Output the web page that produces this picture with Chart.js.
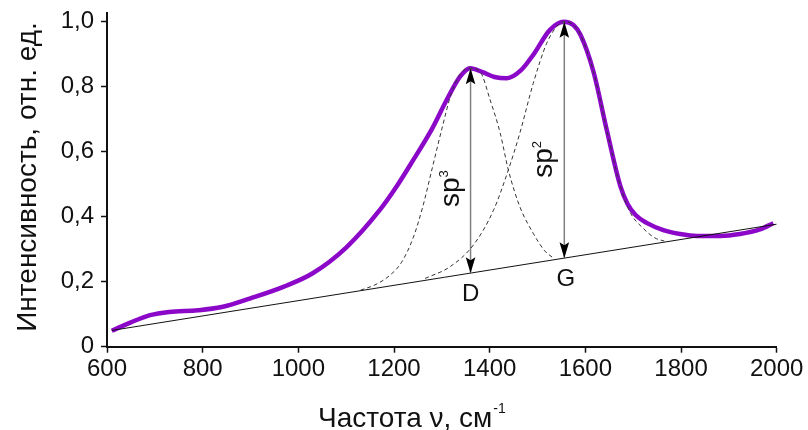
<!DOCTYPE html>
<html>
<head>
<meta charset="utf-8">
<script src="https://cdn.jsdelivr.net/npm/chart.js@4/dist/chart.umd.min.js"></script>
<style>
  html, body { margin: 0; padding: 0; background: #fff; }
  canvas { display: block; }
</style>
</head>
<body>
<canvas id="raman" width="808" height="430"></canvas>
<script>
// Raman spectrum of the carbon film with its D and G band decomposition
const spectrumX = [610, 650, 690, 730, 790, 840, 900, 970, 1030, 1100, 1170, 1205, 1240, 1280, 1310, 1338, 1359,
                   1385, 1410, 1436, 1465, 1491, 1526, 1555, 1575, 1590, 1617, 1645, 1673, 1688, 1705, 1728,
                   1763, 1798, 1833, 1882, 1923, 1965, 1993];
const spectrumY = [0.049, 0.075, 0.097, 0.107, 0.112, 0.122, 0.149, 0.185, 0.226, 0.305, 0.420, 0.492, 0.574, 0.672, 0.759, 0.831, 0.857,
                   0.845, 0.830, 0.826, 0.850, 0.898, 0.975, 1.000, 0.990, 0.959, 0.846, 0.665, 0.495, 0.440, 0.405, 0.381,
                   0.359, 0.347, 0.341, 0.341, 0.347, 0.361, 0.380];

// D band (sp3) component
const bandDX = [1130, 1160, 1190, 1215, 1240, 1260, 1280, 1300, 1320, 1340, 1360, 1380, 1401, 1422, 1439, 1463, 1491, 1515, 1533];
const bandDY = [0.174, 0.190, 0.218, 0.258, 0.335, 0.430, 0.550, 0.670, 0.780, 0.842, 0.857, 0.846, 0.759, 0.657, 0.544, 0.431, 0.349, 0.295, 0.273];

// G band (sp2) component
const bandGX = [1265, 1317, 1366, 1408, 1439, 1463, 1491, 1519, 1540, 1555, 1575, 1590, 1617, 1645, 1673, 1693, 1721, 1745, 1765];
const bandGY = [0.210, 0.246, 0.313, 0.420, 0.544, 0.657, 0.810, 0.933, 0.985, 1.000, 0.990, 0.959, 0.846, 0.665, 0.495, 0.415, 0.364, 0.335, 0.325];

// linear background
const baselineX = [610, 2000];
const baselineY = [0.050, 0.377];

// band heights measured from the background
const bandNames = ['D', 'G'];
const bandHybrid = ['3', '2'];
const bandPeakX = [1360, 1556];
const bandFootY = [0.226, 0.272];
const bandTopY = [0.857, 1.000];

const xTicks = [600, 800, 1000, 1200, 1400, 1600, 1800, 2000];
const yTicks = [0, 0.2, 0.4, 0.6, 0.8, 1.0];

const FONT = '"Liberation Sans", Arial, Helvetica, sans-serif';
const INK = '#111';

const pts = (xs, ys) => xs.map((x, i) => ({ x: x, y: ys[i] }));

const datasets = [
  {
    data: pts(spectrumX, spectrumY),
    borderColor: 'rgb(140, 8, 200)',
    borderWidth: 4.5,
    cubicInterpolationMode: 'monotone',
    order: 5
  },
  {
    data: pts(baselineX, baselineY),
    borderColor: '#111',
    borderWidth: 1,
    order: 3
  },
  {
    data: pts(bandDX, bandDY),
    borderColor: '#333',
    borderWidth: 1,
    borderDash: [4, 3],
    cubicInterpolationMode: 'monotone',
    order: 1
  },
  {
    data: pts(bandGX, bandGY),
    borderColor: '#333',
    borderWidth: 1,
    borderDash: [4, 3],
    cubicInterpolationMode: 'monotone',
    order: 1
  }
];
// arrow shafts
bandPeakX.forEach((x, i) => {
  datasets.push({
    data: [{ x: x, y: bandFootY[i] }, { x: x, y: bandTopY[i] }],
    borderColor: '#808080',
    borderWidth: 1.5,
    order: 2
  });
});

function head(ctx, x, y, dir) {
  // dir = -1: points up, +1: points down; (x, y) is the tip
  const len = 16, half = 4.8, notch = 3;
  ctx.beginPath();
  ctx.moveTo(x, y);
  ctx.lineTo(x - half, y - dir * len);
  ctx.lineTo(x, y - dir * (len - notch));
  ctx.lineTo(x + half, y - dir * len);
  ctx.closePath();
  ctx.fill();
}

const annotations = {
  id: 'annotations',
  afterDatasetsDraw(chart) {
    const ctx = chart.ctx;
    const xs = chart.scales.x, ys = chart.scales.y;
    ctx.save();
    bandPeakX.forEach((v, i) => {
      const px = xs.getPixelForValue(v);
      const pLow = ys.getPixelForValue(bandFootY[i]);
      const pHigh = ys.getPixelForValue(bandTopY[i]);
      ctx.fillStyle = '#000';
      head(ctx, px, pHigh, -1);
      head(ctx, px, pLow, 1);

      // band name under the background line
      ctx.font = '24px ' + FONT;
      ctx.fillStyle = INK;
      ctx.textAlign = 'center';
      ctx.textBaseline = 'alphabetic';
      ctx.fillText(bandNames[i], px + (i === 0 ? 0 : 1.5), pLow + 28);

      // rotated hybridisation label beside the arrow
      const startY = ys.getPixelForValue(i === 0 ? 0.43 : 0.52);
      ctx.save();
      ctx.translate(px - 12, startY);
      ctx.rotate(-Math.PI / 2);
      ctx.textAlign = 'left';
      ctx.font = '28px ' + FONT;
      ctx.fillText('sp', 0, 0);
      const w = ctx.measureText('sp').width;
      ctx.font = '13px ' + FONT;
      ctx.fillText(bandHybrid[i], w, -11);
      ctx.restore();
    });

    // axis titles
    ctx.fillStyle = INK;
    ctx.textBaseline = 'alphabetic';
    ctx.font = '28px ' + FONT;
    ctx.save();
    ctx.translate(36, 177);
    ctx.rotate(-Math.PI / 2);
    ctx.textAlign = 'center';
    ctx.fillText('Интенсивность, отн. ед.', 0, 0);
    ctx.restore();

    const main = 'Частота ν, см';
    ctx.textAlign = 'left';
    ctx.font = '28px ' + FONT;
    const mw = ctx.measureText(main).width;
    const x0 = 318;
    ctx.fillText(main, x0, 427);
    ctx.font = '14px ' + FONT;
    ctx.fillText('-1', x0 + mw + 1, 413);
    ctx.restore();
  }
};

new Chart(document.getElementById('raman'), {
  type: 'scatter',
  data: { datasets: datasets },
  options: {
    responsive: false,
    animation: false,
    devicePixelRatio: 1,
    showLine: true,
    elements: { point: { radius: 0, hoverRadius: 0 } },
    layout: { padding: { top: 12.6, right: 31.3, left: 0, bottom: 0 } },
    plugins: { legend: { display: false }, tooltip: { enabled: false } },
    scales: {
      x: {
        type: 'linear',
        min: 600,
        max: 2000,
        afterBuildTicks: (s) => { s.ticks = xTicks.map(v => ({ value: v })); },
        afterFit: (s) => { s.height = 83.3; s.paddingLeft = 0; s.paddingRight = 0; },
        border: { display: true, color: '#111', width: 2 },
        grid: { drawOnChartArea: false, tickLength: 6, color: '#111', tickWidth: 1.5 },
        ticks: {
          color: INK,
          font: { family: FONT, size: 24 },
          padding: 2,
          maxRotation: 0,
          autoSkip: false,
          callback: (v) => String(v)
        }
      },
      y: {
        type: 'linear',
        min: 0,
        max: 1.028,
        afterBuildTicks: (s) => { s.ticks = yTicks.map(v => ({ value: v })); },
        afterFit: (s) => { s.width = 107; s.paddingTop = 0; s.paddingBottom = 0; },
        border: { display: true, color: '#111', width: 2 },
        grid: { drawOnChartArea: false, tickLength: 6, color: '#111', tickWidth: 1.5 },
        ticks: {
          color: INK,
          font: { family: FONT, size: 24 },
          padding: 7,
          autoSkip: false,
          callback: (v) => v === 0 ? '0' : v.toFixed(1).replace('.', ',')
        }
      }
    }
  },
  plugins: [annotations]
});
</script>
</body>
</html>
